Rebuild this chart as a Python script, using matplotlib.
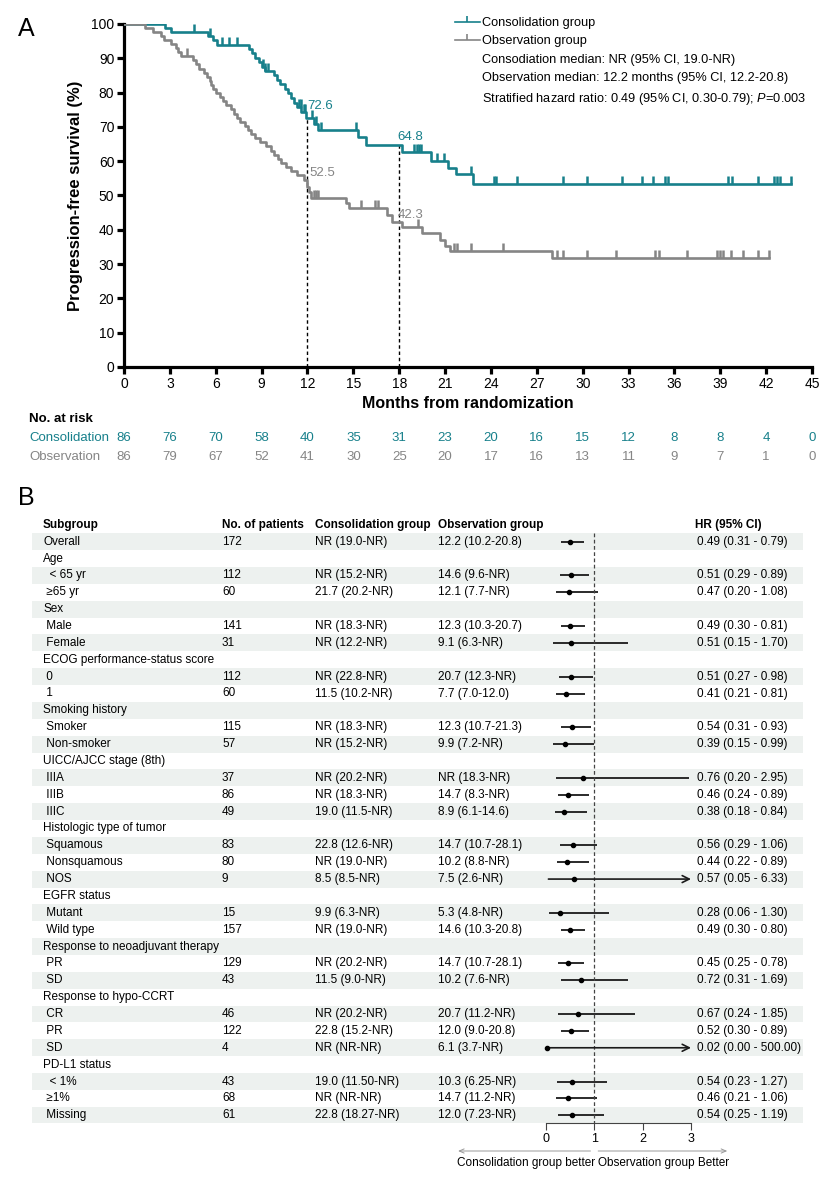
import numpy as np
import matplotlib
matplotlib.use('Agg')
import matplotlib.pyplot as plt
from matplotlib.lines import Line2D
from matplotlib import transforms

plt.rcParams['font.family'] = ['Liberation Sans', 'DejaVu Sans']
plt.rcParams['mathtext.fontset'] = 'custom'
plt.rcParams['mathtext.rm'] = 'Liberation Sans'
plt.rcParams['mathtext.it'] = 'Liberation Sans:italic'

TEAL = '#17808b'
GREY = '#858585'

# ---- panel A: Kaplan-Meier data ----
cons_time = [0, 2.7, 3.1, 5.5, 5.8, 6.1, 8.2, 8.4, 8.6, 8.8, 9.0, 9.2, 9.8, 10.0, 10.2, 10.5,
             10.7, 10.9, 11.1, 11.3, 11.6, 11.9, 12.4, 12.7, 15.3, 15.8, 18.2, 20.1, 21.2, 21.7, 22.8]
cons_surv = [100, 98.8, 97.6, 96.4, 95.2, 93.9, 92.7, 91.4, 90.2, 88.9, 87.6, 86.4, 85.1, 83.8, 82.5, 81.1,
             79.8, 78.5, 77.1, 75.8, 74.4, 72.6, 70.9, 69.1, 67.0, 64.8, 62.7, 60.0, 58.0, 56.3, 53.4]
cons_cens = [0.5, 0.7, 1.1, 1.25, 1.4, 1.55, 2.1, 2.5, 4.6, 5.6, 6.4, 6.9, 7.4, 9.1, 9.25, 9.4,
             11.45, 11.55, 11.75, 11.85, 12.3, 12.55, 12.9, 15.2, 19.0, 19.15, 19.3, 19.45, 20.5, 20.9,
             22.7, 24.2, 24.35, 25.7, 28.7, 30.3, 32.6, 33.9, 34.6, 35.4, 35.55, 39.5, 39.8, 41.5,
             42.5, 42.7, 42.9, 43.6]

obs_time = [0, 1.4, 1.9, 2.4, 2.6, 3.1, 3.4, 3.5, 3.7, 4.5, 4.7, 4.9, 5.2, 5.4, 5.6, 5.7, 5.85, 6.0,
            6.3, 6.5, 6.7, 7.0, 7.2, 7.4, 7.6, 7.9, 8.1, 8.3, 8.6, 8.9, 9.3, 9.6, 9.8, 10.1, 10.3, 10.6,
            10.9, 11.3, 11.8, 12.0, 12.1, 12.2, 14.5, 14.7, 17.2, 17.5, 18.2, 19.5, 20.7, 21.0, 21.3, 28.0]
obs_surv = [100, 98.8, 97.7, 96.5, 95.3, 94.1, 93.0, 91.8, 90.6, 89.4, 88.2, 87.0, 85.8, 84.6, 83.5,
            82.3, 81.1, 79.9, 78.7, 77.5, 76.3, 75.1, 73.9, 72.7, 71.5, 70.3, 69.1, 67.9, 66.7, 65.5,
            64.3, 63.1, 61.9, 60.7, 59.5, 58.3, 57.1, 55.9, 54.6, 52.5, 51.0, 49.3, 47.8, 46.4, 44.3,
            42.3, 40.9, 39.0, 37.0, 35.3, 33.8, 31.7]
obs_cens = [4.1, 12.4, 12.55, 12.7, 15.5, 16.4, 16.6, 19.2, 21.6, 21.8, 22.7, 24.8, 28.3, 28.7, 30.3,
            32.2, 34.7, 35.0, 36.8, 38.8, 39.0, 39.2, 39.7, 40.5, 41.5, 42.2]

landmark_months = [12, 18]
cons_landmark = [72.6, 64.8]
obs_landmark = [52.5, 42.3]

risk_months = list(range(0, 46, 3))
cons_risk = [86, 76, 70, 58, 40, 35, 31, 23, 20, 16, 15, 12, 8, 8, 4, 0]
obs_risk = [86, 79, 67, 52, 41, 30, 25, 20, 17, 16, 13, 11, 9, 7, 1, 0]

legend_labels = ['Consolidation group', 'Observation group',
                 'Consodiation median: NR (95% CI, 19.0-NR)',
                 'Observation median: 12.2 months (95% CI, 12.2-20.8)',
                 'Stratified hazard ratio: 0.49 (95% CI, 0.30-0.79); $\\mathit{P}$=0.003']

# ---- panel B: subgroup forest data ----
subgroups = ['Overall', 'Age', '  < 65 yr', ' \u226565 yr', 'Sex', ' Male', ' Female',
             'ECOG performance-status score', ' 0', ' 1', 'Smoking history', ' Smoker', ' Non-smoker',
             'UICC/AJCC stage (8th)', ' IIIA', ' IIIB', ' IIIC', 'Histologic type of tumor',
             ' Squamous', ' Nonsquamous', ' NOS', 'EGFR status', ' Mutant', ' Wild type',
             'Response to neoadjuvant therapy', ' PR', ' SD', 'Response to hypo-CCRT', ' CR', ' PR',
             ' SD', 'PD-L1 status', '  < 1%', ' \u22651%', ' Missing']
n_patients = ['172', '', '112', '60', '', '141', '31', '', '112', '60', '', '115', '57', '', '37',
              '86', '49', '', '83', '80', '9', '', '15', '157', '', '129', '43', '', '46', '122', '4',
              '', '43', '68', '61']
cons_median = ['NR (19.0-NR)', '', 'NR (15.2-NR)', '21.7 (20.2-NR)', '', 'NR (18.3-NR)',
               'NR (12.2-NR)', '', 'NR (22.8-NR)', '11.5 (10.2-NR)', '', 'NR (18.3-NR)',
               'NR (15.2-NR)', '', 'NR (20.2-NR)', 'NR (18.3-NR)', '19.0 (11.5-NR)', '',
               '22.8 (12.6-NR)', 'NR (19.0-NR)', '8.5 (8.5-NR)', '', '9.9 (6.3-NR)', 'NR (19.0-NR)',
               '', 'NR (20.2-NR)', '11.5 (9.0-NR)', '', 'NR (20.2-NR)', '22.8 (15.2-NR)',
               'NR (NR-NR)', '', '19.0 (11.50-NR)', 'NR (NR-NR)', '22.8 (18.27-NR)']
obs_median = ['12.2 (10.2-20.8)', '', '14.6 (9.6-NR)', '12.1 (7.7-NR)', '', '12.3 (10.3-20.7)',
              '9.1 (6.3-NR)', '', '20.7 (12.3-NR)', '7.7 (7.0-12.0)', '', '12.3 (10.7-21.3)',
              '9.9 (7.2-NR)', '', 'NR (18.3-NR)', '14.7 (8.3-NR)', '8.9 (6.1-14.6)', '',
              '14.7 (10.7-28.1)', '10.2 (8.8-NR)', '7.5 (2.6-NR)', '', '5.3 (4.8-NR)',
              '14.6 (10.3-20.8)', '', '14.7 (10.7-28.1)', '10.2 (7.6-NR)', '', '20.7 (11.2-NR)',
              '12.0 (9.0-20.8)', '6.1 (3.7-NR)', '', '10.3 (6.25-NR)', '14.7 (11.2-NR)',
              '12.0 (7.23-NR)']
nan = np.nan
hr = [0.49, nan, 0.51, 0.47, nan, 0.49, 0.51, nan, 0.51, 0.41, nan, 0.54, 0.39, nan, 0.76, 0.46,
      0.38, nan, 0.56, 0.44, 0.57, nan, 0.28, 0.49, nan, 0.45, 0.72, nan, 0.67, 0.52, 0.02, nan,
      0.54, 0.46, 0.54]
hr_lo = [0.31, nan, 0.29, 0.20, nan, 0.30, 0.15, nan, 0.27, 0.21, nan, 0.31, 0.15, nan, 0.20, 0.24,
         0.18, nan, 0.29, 0.22, 0.05, nan, 0.06, 0.30, nan, 0.25, 0.31, nan, 0.24, 0.30, 0.00, nan,
         0.23, 0.21, 0.25]
hr_hi = [0.79, nan, 0.89, 1.08, nan, 0.81, 1.70, nan, 0.98, 0.81, nan, 0.93, 0.99, nan, 2.95, 0.89,
         0.84, nan, 1.06, 0.89, 6.33, nan, 1.30, 0.80, nan, 0.78, 1.69, nan, 1.85, 0.89, 500.00, nan,
         1.27, 1.06, 1.19]
hr_cap = 3

W, H = 832, 1180
fig = plt.figure(figsize=(W / 100, H / 100), dpi=100)


def fx(px):
    return px / W


def fy(py):
    return 1 - py / H


def surv_at(times, surv, t):
    i = np.searchsorted(times, t, side='right') - 1
    return surv[i]


# ================= A =================
ax = fig.add_axes([fx(124), fy(367), (812 - 124) / W, (367 - 24) / H])
for times, surv, cens, col in [(cons_time, cons_surv, cons_cens, TEAL),
                               (obs_time, obs_surv, obs_cens, GREY)]:
    end = max(cens)
    ax.step(times + [end], surv + [surv[-1]], where='post', color=col, lw=1.9, zorder=3)
    cy = [surv_at(times, surv, c) for c in cens]
    ax.plot(cens, cy, ls='none', marker=2, ms=5.5, mew=1.8, color=col, zorder=3)

for m, c in zip(landmark_months, cons_landmark):
    ax.plot([m, m], [0, c], ls=(0, (2.5, 2)), color='k', lw=1.0, zorder=2)
ax.text(12.0, cons_landmark[0] + 1.8, '72.6', color=TEAL, fontsize=9.5, va='bottom')
ax.text(12.15, obs_landmark[0] + 2.3, '52.5', color=GREY, fontsize=9.5, va='bottom')
ax.text(17.9, cons_landmark[1] + 0.5, '64.8', color=TEAL, fontsize=9.5, va='bottom')
ax.text(17.9, obs_landmark[1] + 0.3, '42.3', color=GREY, fontsize=9.5, va='bottom')

ax.set_xlim(0, 45)
ax.set_ylim(0, 100)
ax.set_xticks(risk_months)
ax.set_yticks(range(0, 101, 10))
for s in ['top', 'right']:
    ax.spines[s].set_visible(False)
for s in ['left', 'bottom']:
    ax.spines[s].set_linewidth(2.3)
ax.tick_params(width=2.3, length=5, labelsize=10, pad=2)
ax.set_ylabel('Progression-free survival (%)', fontsize=12, fontweight='bold', labelpad=6)
ax.set_xlabel('Months from randomization', fontsize=11.5, fontweight='bold', labelpad=4)

handles = [Line2D([0], [0], color=TEAL, lw=1.2, marker=2, ms=4, mew=1.2),
           Line2D([0], [0], color=GREY, lw=1.2, marker=2, ms=4, mew=1.2)]
handles += [Line2D([], [], ls='none') for _ in range(3)]
ax.legend(handles, legend_labels, loc='upper left', bbox_to_anchor=(fx(455), fy(17)),
          bbox_transform=fig.transFigure, frameon=False, fontsize=9.2, handlelength=1.95,
          handletextpad=0.2, labelspacing=0.5, borderpad=0, borderaxespad=0, numpoints=1)

fig.text(fx(26), fy(29), 'A', fontsize=18, ha='center', va='center')

# number at risk
axr = fig.add_axes([fx(124), fy(466.5), (812 - 124) / W, 57 / H])
axr.set_xlim(0, 45)
axr.set_ylim(3, 0)
axr.axis('off')
lab_tr = transforms.blended_transform_factory(fig.transFigure, axr.transData)
axr.text(fx(29), 0.5, 'No. at risk', transform=lab_tr, fontsize=9.5, fontweight='bold', va='center')
axr.text(fx(29), 1.5, 'Consolidation', transform=lab_tr, fontsize=9.5, color=TEAL, va='center')
axr.text(fx(29), 2.5, 'Observation', transform=lab_tr, fontsize=9.5, color=GREY, va='center')
for m, a, b in zip(risk_months, cons_risk, obs_risk):
    axr.text(m, 1.5, str(a), ha='center', va='center', fontsize=9.5, color=TEAL)
    axr.text(m, 2.5, str(b), ha='center', va='center', fontsize=9.5, color=GREY)

# ================= B =================
fig.text(fx(26), fy(498), 'B', fontsize=18, ha='center', va='center')

row0, pitch = 524.8, 16.87
k_top = (510 - row0) / pitch
k_bot = (1123 - row0) / pitch
rect = [0, fy(1123), 1, (1123 - 510) / H]
axt = fig.add_axes(rect)
axt.set_xlim(0, W)
axt.set_ylim(k_bot, k_top)
axt.axis('off')

unit = (691 - 546) / 3.0
axf = fig.add_axes(rect, sharey=axt)
axf.patch.set_alpha(0)
axf.set_xlim(-546 / unit, (W - 546) / unit)

nrows = len(subgroups)
for k in range(1, nrows + 1, 2):
    axt.axhspan(k - 0.5, k + 0.5, xmin=32 / W, xmax=803 / W, color='#edf1ef', lw=0, zorder=0)

fs = 8.5
cols = [(43, 'Subgroup'), (222, 'No. of patients'), (315, 'Consolidation group'),
        (438, 'Observation group'), (695, 'HR (95% CI)')]
for x, t in cols:
    axt.text(x, 0, t, fontsize=fs, fontweight='bold', va='center')

for i in range(nrows):
    k = i + 1
    axt.text(43, k, subgroups[i], fontsize=fs, va='center')
    axt.text(222, k, n_patients[i], fontsize=fs, va='center')
    axt.text(315, k, cons_median[i], fontsize=fs, va='center')
    axt.text(438, k, obs_median[i], fontsize=fs, va='center')
    if not np.isnan(hr[i]):
        axt.text(697, k, f'{hr[i]:.2f} ({hr_lo[i]:.2f} - {hr_hi[i]:.2f})', fontsize=fs, va='center')
        if hr_hi[i] > hr_cap:
            axf.annotate('', xy=(hr_cap, k), xytext=(hr_lo[i], k),
                         arrowprops=dict(arrowstyle='->,head_length=0.5,head_width=0.25',
                                         lw=1.2, color='#1a1a1a', shrinkA=0, shrinkB=0))
        else:
            axf.plot([hr_lo[i], hr_hi[i]], [k, k], color='#1a1a1a', lw=1.3, solid_capstyle='butt')
        axf.plot(hr[i], k, 'o', ms=3.0, color='k', zorder=4)

axf.vlines(1, 0.5, k_bot, colors='#444444', linestyles=(0, (3, 2)), lw=0.9)

for s in ['top', 'right', 'left']:
    axf.spines[s].set_visible(False)
axf.spines['bottom'].set_bounds(0, 3)
axf.spines['bottom'].set_color('#444444')
axf.spines['bottom'].set_linewidth(0.8)
axf.set_xticks([0, 1, 2, 3])
axf.tick_params(axis='x', length=5, width=0.8, color='#444444', labelsize=9, pad=2)
axf.tick_params(axis='y', left=False, labelleft=False)

tr = transforms.blended_transform_factory(axf.transData, fig.transFigure)
arrow_kw = dict(arrowstyle='->,head_length=0.35,head_width=0.15', lw=0.7, color='#999999',
                shrinkA=0, shrinkB=0)
axf.annotate('', xy=(-1.82, fy(1151)), xytext=(0.92, fy(1151)), xycoords=tr, textcoords=tr,
             arrowprops=arrow_kw, annotation_clip=False)
axf.annotate('', xy=(3.75, fy(1151)), xytext=(1.08, fy(1151)), xycoords=tr, textcoords=tr,
             arrowprops=arrow_kw, annotation_clip=False)
axf.text(-1.84, fy(1163), 'Consolidation group better', transform=tr, fontsize=8.5, va='center')
axf.text(1.08, fy(1163), 'Observation group Better', transform=tr, fontsize=8.5, va='center')

fig.savefig('out.png', dpi=100)
